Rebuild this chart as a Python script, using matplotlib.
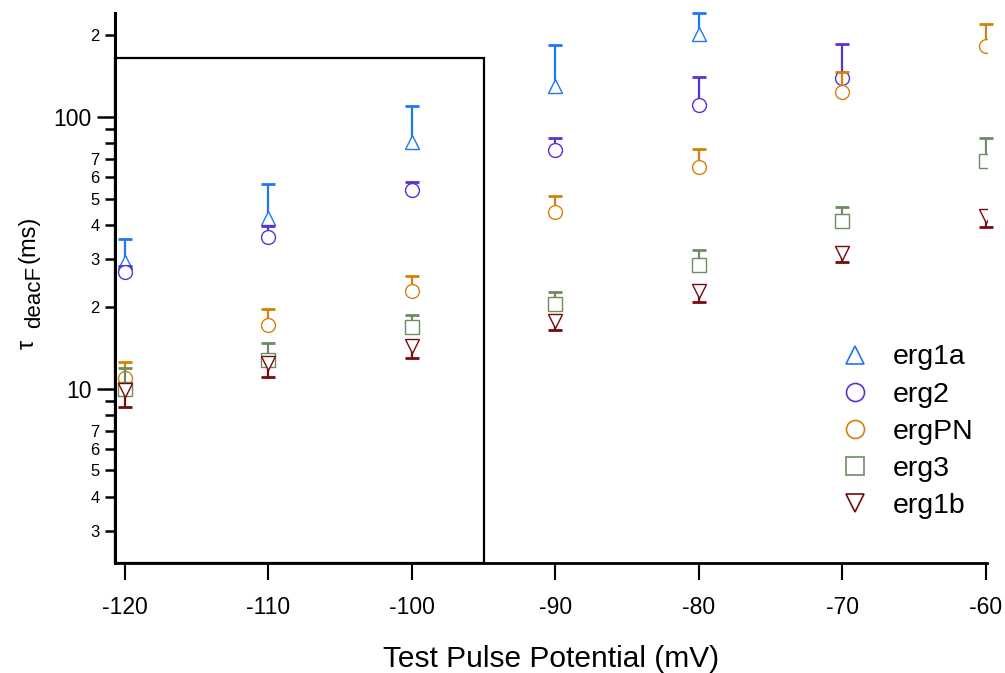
import matplotlib
matplotlib.use("Agg")
import numpy as np
import matplotlib.pyplot as plt
from matplotlib.patches import Rectangle
from matplotlib.lines import Line2D
from matplotlib.ticker import FixedLocator, FixedFormatter

plt.rcParams["font.family"] = ["Liberation Sans", "DejaVu Sans"]

# Test pulse potentials (mV)
voltages = [-120, -110, -100, -90, -80, -70, -60]

# Fast deactivation time constants (ms) and one-sided errors
erg1a_tau = [29.2, 42.4, 81.1, 129.7, 202.0, np.nan, np.nan]
erg1a_err = [6.3, 14.1, 28.9, 54.1, 39.0, np.nan, np.nan]

erg2_tau = [26.9, 36.1, 53.7, 75.4, 110.4, 139.2, np.nan]
erg2_err = [1.3, 3.6, 3.9, 8.3, 29.9, 46.8, np.nan]

ergPN_tau = [10.9, 17.2, 22.8, 44.5, 65.5, 123.6, 182.0]
ergPN_err = [1.6, 2.4, 3.1, 6.7, 10.5, 22.0, 37.0]

erg3_tau = [10.0, 12.7, 16.9, 20.4, 28.4, 41.4, 68.7]
erg3_err = [1.9, 2.0, 1.8, 2.2, 3.9, 5.2, 15.0]

erg1b_tau = [9.86, 12.4, 14.4, 17.7, 22.8, 31.5, 43.3]
erg1b_err = [1.34, 1.4, 1.4, 1.3, 2.0, 2.4, 4.1]

series_names = ["erg1a", "erg2", "ergPN", "erg3", "erg1b"]
series_tau = [erg1a_tau, erg2_tau, ergPN_tau, erg3_tau, erg1b_tau]
series_err = [erg1a_err, erg2_err, ergPN_err, erg3_err, erg1b_err]
series_dir = [1, 1, 1, 1, -1]          # error bar drawn upward (+1) or downward (-1)
series_marker = ["^", "o", "o", "s", "v"]
series_color = ["#1e78f0", "#5a32d2", "#d2820a", "#6e8c64", "#780a0a"]

y_major = [10, 100]
y_major_labels = ["10", "100"]
y_minor = [3, 4, 5, 6, 7, 8, 9, 20, 30, 40, 50, 60, 70, 80, 90, 200]
y_minor_labels = ["3", "4", "5", "6", "7", "", "", "2", "3", "4", "5", "6", "7", "", "", "2"]
x_ticks = [-120, -110, -100, -90, -80, -70, -60]

W, H = 1005, 673
fig = plt.figure(figsize=(W / 100, H / 100), dpi=100)
ax = fig.add_axes([115 / W, 1 - 563 / H, (987 - 115) / W, (563 - 13) / H])

ax.set_yscale("log")
ax.set_xlim(-120.70, -59.90)
ax.set_ylim(2.28, 241)

ms = 10
for i, (name, tau, err, d, mk, c) in enumerate(
        zip(series_names, series_tau, series_err, series_dir, series_marker, series_color)):
    x = np.array(voltages, dtype=float)
    t = np.array(tau, dtype=float)
    e = np.array(err, dtype=float)
    end = t + d * e
    ax.vlines(x, t, end, colors=c, lw=1.6, zorder=2 + 2 * i)
    ax.plot(x, end, ls="none", marker="_", ms=10, mew=2.0, color=c,
            zorder=2 + 2 * i, clip_on=False)
    ax.plot(x, t, ls="none", marker=mk, ms=ms, mfc="white", mec=c, mew=1.0,
            zorder=3 + 2 * i)

# Boxed region over the hyperpolarised potentials
x0, y0 = ax.get_xlim()[0], ax.get_ylim()[0]
ax.add_patch(Rectangle((x0, y0), -95 - x0, 165 - y0, fill=False, ec="black",
                       lw=1.6, zorder=20, clip_on=False))

# Axes styling
for s in ["top", "right"]:
    ax.spines[s].set_visible(False)
ax.spines["left"].set_linewidth(2.2)
ax.spines["bottom"].set_linewidth(2.0)

ax.xaxis.set_major_locator(FixedLocator(x_ticks))
ax.set_xticklabels([str(v) for v in x_ticks])
ax.tick_params(axis="x", which="major", length=12.5, width=1.5, labelsize=16.5, pad=11)
ax.tick_params(axis="x", which="minor", length=0)

ax.yaxis.set_major_locator(FixedLocator(y_major))
ax.yaxis.set_major_formatter(FixedFormatter(y_major_labels))
ax.yaxis.set_minor_locator(FixedLocator(y_minor))
ax.yaxis.set_minor_formatter(FixedFormatter(y_minor_labels))
ax.tick_params(axis="y", which="major", length=13, width=1.8, labelsize=16.5, pad=4)
ax.tick_params(axis="y", which="minor", length=7, width=1.8, labelsize=12, pad=4)

ax.set_xlabel("Test Pulse Potential (mV)", fontsize=21.5, labelpad=19)

# Y-axis label assembled from pieces: tau, lowered "deacF", and units
fig.text(34 / W, 1 - 349 / H, "τ", rotation=90, rotation_mode="anchor",
         ha="left", va="baseline", fontsize=17)
fig.text(40 / W, 1 - 328 / H, "deacF", rotation=90, rotation_mode="anchor",
         ha="left", va="baseline", fontsize=16)
fig.text(34 / W, 1 - 263 / H, "(ms)", rotation=90, rotation_mode="anchor",
         ha="left", va="baseline", fontsize=17)

handles = [Line2D([], [], ls="none", marker=mk, ms=13, mfc="white", mec=c, mew=1.2)
           for mk, c in zip(series_marker, series_color)]
ax.legend(handles, series_names, loc="upper left", bbox_to_anchor=(840.8 / W, 1 - 344.5 / H),
          bbox_transform=fig.transFigure, frameon=False, fontsize=20.5, borderpad=0,
          handlelength=1.0, handletextpad=0.83, labelspacing=0.39, borderaxespad=0)

fig.savefig("out.png", dpi=100)
